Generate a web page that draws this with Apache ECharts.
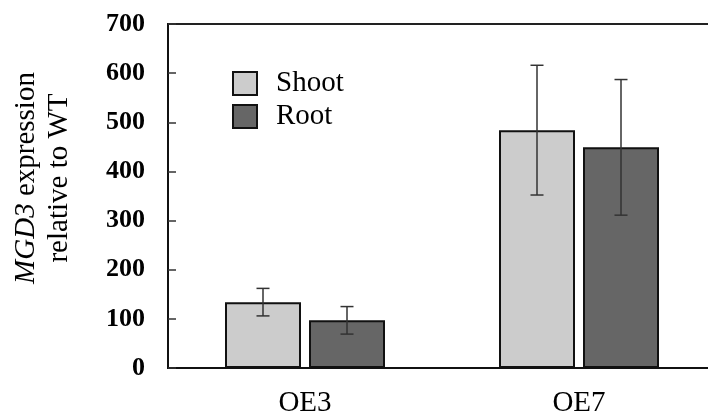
<!DOCTYPE html>
<html>
<head>
<meta charset="utf-8">
<script src="https://cdn.jsdelivr.net/npm/echarts@6/dist/echarts.min.js"></script>
<style>
  html, body { margin: 0; padding: 0; background: #fff; }
  #main { width: 708px; height: 416px; }
</style>
</head>
<body>
<div id="main"></div>
<script>
// data
const categories = ['OE3', 'OE7'];
const shoot = [134, 484];
const root = [97, 449];
const shootErr = [28, 132];
const rootErr = [28, 138];
const yTicks = [0, 100, 200, 300, 400, 500, 600, 700];

const font = 'Liberation Serif';
const barWidth = 76;
const barGapPx = 8;

// error bars drawn on top of each bar
function errorSeries(name, means, errs, side) {
    return {
        name: name + ' err',
        type: 'custom',
        z: 5,
        silent: true,
        data: means.map((m, i) => [i, m - errs[i], m + errs[i]]),
        renderItem: function (params, api) {
            const off = side * (barWidth + barGapPx) / 2;
            const lo = api.coord([api.value(0), api.value(1)]);
            const hi = api.coord([api.value(0), api.value(2)]);
            const x = lo[0] + off;
            const w = 6.5;
            const st = { stroke: '#333', lineWidth: 1.5 };
            return {
                type: 'group',
                children: [
                    { type: 'line', shape: { x1: x, y1: lo[1], x2: x, y2: hi[1] }, style: st },
                    { type: 'line', shape: { x1: x - w, y1: hi[1], x2: x + w, y2: hi[1] }, style: st },
                    { type: 'line', shape: { x1: x - w, y1: lo[1], x2: x + w, y2: lo[1] }, style: st }
                ]
            };
        }
    };
}

const chart = echarts.init(document.getElementById('main'), null, { renderer: 'canvas' });
chart.setOption({
    animation: false,
    backgroundColor: '#fff',
    textStyle: { fontFamily: font },
    grid: {
        left: 168, top: 24, right: -8, bottom: 48,
        outerBoundsMode: 'none',
        containLabel: false,
        show: true, borderColor: '#222', borderWidth: 2
    },
    legend: {
        data: ['Shoot', 'Root'],
        orient: 'vertical',
        left: 232,
        top: 69,
        padding: 0,
        itemWidth: 24,
        itemHeight: 23,
        itemGap: 4,
        icon: 'rect',
        itemStyle: { borderColor: '#111', borderWidth: 2 },
        textStyle: {
            fontFamily: font, fontSize: 29, color: '#000',
            lineHeight: 28, padding: [0, 0, 0, 14]
        }
    },
    graphic: [{
        type: 'text',
        x: 43,
        y: 178,
        rotation: Math.PI / 2,
        style: {
            text: '{i|MGD3} expression\nrelative to WT',
            fontFamily: font,
            fontSize: 29,
            lineHeight: 33,
            fill: '#000',
            align: 'center',
            verticalAlign: 'middle',
            rich: {
                i: { fontStyle: 'italic', fontFamily: font, fontSize: 29, lineHeight: 33 }
            }
        }
    }],
    xAxis: {
        type: 'category',
        data: categories,
        axisLine: { lineStyle: { color: '#111', width: 2 } },
        axisTick: { inside: true, length: 8, lineStyle: { color: '#666', width: 1.5 } },
        axisLabel: { fontFamily: font, fontSize: 29, color: '#000', margin: 21 }
    },
    yAxis: {
        type: 'value',
        min: yTicks[0],
        max: yTicks[yTicks.length - 1],
        interval: 100,
        splitLine: { show: false },
        axisLine: { show: true, lineStyle: { color: '#111', width: 2 } },
        axisTick: { show: true, inside: true, length: 8, lineStyle: { color: '#333', width: 1.5 } },
        axisLabel: { fontFamily: font, fontSize: 26, fontWeight: 'bold', color: '#000', margin: 23 }
    },
    series: [
        {
            name: 'Shoot',
            type: 'bar',
            data: shoot,
            barWidth: barWidth,
            barGap: (barGapPx / barWidth * 100) + '%',
            itemStyle: { color: '#cccccc', borderColor: '#111', borderWidth: 2 }
        },
        {
            name: 'Root',
            type: 'bar',
            data: root,
            barWidth: barWidth,
            itemStyle: { color: '#666666', borderColor: '#111', borderWidth: 2 }
        },
        errorSeries('Shoot', shoot, shootErr, -1),
        errorSeries('Root', root, rootErr, 1)
    ]
});
</script>
</body>
</html>
